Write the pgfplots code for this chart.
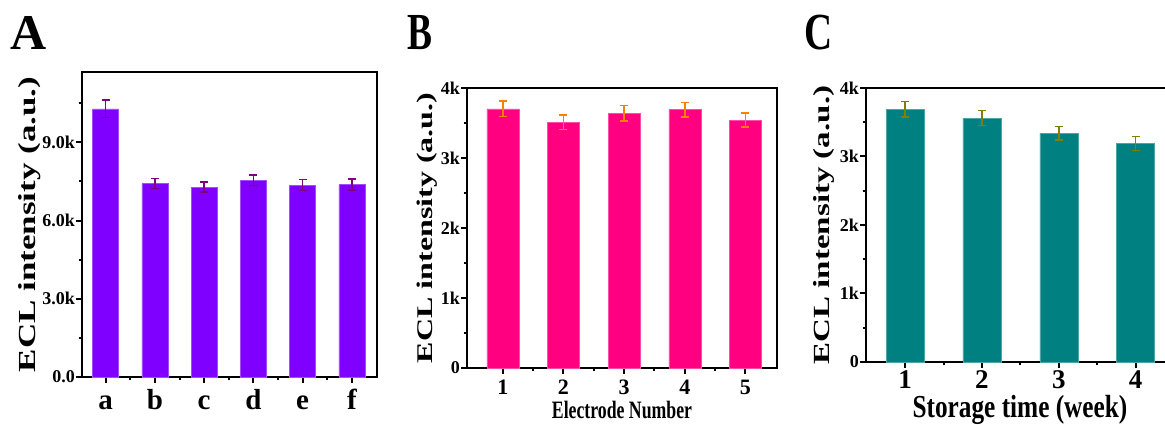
\documentclass[border=0pt]{standalone}
\usepackage{pgfplots}
\pgfplotsset{compat=1.18}
\usepackage{pgfplotstable}
\usepackage{fontspec}
\setmainfont{Liberation Serif}
\definecolor{barA}{RGB}{128,0,255}
\definecolor{errA}{RGB}{128,0,128}
\definecolor{barB}{RGB}{255,0,128}
\definecolor{errB}{RGB}{255,128,0}
\definecolor{barC}{RGB}{0,128,128}
\definecolor{errC}{RGB}{128,128,0}

\pgfplotstableread{
x y e
0 10290 340
1 7420 190
2 7280 190
3 7540 200
4 7360 210
5 7380 210
}\dataA
\pgfplotstableread{
x y e
1 3700 110
2 3510 105
3 3640 110
4 3690 105
5 3540 100
}\dataB
\pgfplotstableread{
x y e
1 3690 110
2 3560 110
3 3340 100
4 3190 100
}\dataC

\pgfplotsset{
  panel/.style={
    scale only axis, anchor=south west,
    axis line style={line width=2.5pt},
    tick align=outside, xtick pos=left, ytick pos=left,
    major tick length=6pt, minor tick length=3.5pt,
    every tick/.style={black, line width=2pt},
    yticklabel style={font=\fontsize{18}{18}\selectfont\bfseries, inner sep=1pt},
    scaled y ticks=false, scaled x ticks=false,
    ymin=0, clip=false,
  },
  errs/.style={
    error bars/.cd, y dir=both, y explicit,
    error bar style={line width=1.6pt, color=#1},
    error mark options={rotate=90, mark size=4pt, line width=1.6pt, color=#1},
  },
}

\begin{document}
\begin{tikzpicture}[x=1pt,y=1pt]
\clip (0,0) rectangle (1165,425);

% Panel letters
\node[anchor=base west, inner sep=0pt, font=\fontsize{50}{50}\selectfont\bfseries] at (10,375) {A};
\node[anchor=base west, inner sep=0pt, font=\fontsize{52}{52}\selectfont\bfseries] at (407,375) {\scalebox{0.72}[1]{B}};
\node[anchor=base west, inner sep=0pt, font=\fontsize{52}{52}\selectfont\bfseries] at (804,375) {\scalebox{0.75}[1]{C}};

% Panel A
\begin{axis}[panel, at={(82pt,48pt)}, width=295pt, height=305pt,
  xmin=-0.48, xmax=5.51, ymax=11700,
  xtick={0,1,2,3,4,5}, xticklabels={a,b,c,d,e,f},
  minor xtick={0.5,1.5,2.5,3.5,4.5},
  ytick={0,3000,6000,9000}, yticklabels={0.0,3.0k,6.0k,9.0k},
  minor ytick={1500,4500,7500,10500},
  xticklabel style={font=\fontsize{29}{29}\selectfont\bfseries, anchor=base, yshift=-27pt},
  ylabel={\scalebox{1}[0.7]{\fontsize{35}{35}\selectfont\bfseries ECL intensity (a.u.)}},
  every axis y label/.style={at={(rel axis cs:0,0.5)}, xshift=-52pt, rotate=90, anchor=center},
]
\addplot[ybar, bar width=26pt, fill=barA, draw=barA!70!white, errs=errA] table[x=x, y=y, y error=e] {\dataA};
\end{axis}

% Panel B
\begin{axis}[panel, at={(467pt,57pt)}, width=310pt, height=280pt,
  xmin=0.41, xmax=5.52, ymax=4000,
  xtick={1,2,3,4,5}, xticklabels={1,2,3,4,5},
  minor xtick={1.5,2.5,3.5,4.5},
  ytick={0,1000,2000,3000,4000}, yticklabels={0,1k,2k,3k,4k},
  minor ytick={500,1500,2500,3500},
  xticklabel style={font=\fontsize{22}{22}\selectfont\bfseries, anchor=base, inner sep=0pt, yshift=-21pt},
  ylabel={\scalebox{1}[0.7]{\fontsize{32}{32}\selectfont\bfseries ECL intensity (a.u.)}},
  every axis y label/.style={at={(rel axis cs:0,0.5)}, xshift=-40pt, rotate=90, anchor=center},
  xlabel={\scalebox{0.71}[1]{\fontsize{25}{25}\selectfont\bfseries Electrode Number}},
  every axis x label/.style={at={(rel axis cs:0.5,0)}, anchor=base, inner sep=0pt, yshift=-51pt},
]
\addplot[ybar, bar width=32pt, fill=barB, draw=barB!70!white, errs=errB] table[x=x, y=y, y error=e] {\dataB};
\end{axis}

% Panel C
\begin{axis}[panel, at={(866pt,63pt)}, width=308pt, height=274pt,
  xmin=0.49, xmax=4.5, ymax=4000,
  xtick={1,2,3,4}, xticklabels={1,2,3,4},
  minor xtick={1.5,2.5,3.5},
  ytick={0,1000,2000,3000,4000}, yticklabels={0,1k,2k,3k,4k},
  minor ytick={500,1500,2500,3500},
  xticklabel style={font=\fontsize{27}{27}\selectfont\bfseries, anchor=base, inner sep=0pt, yshift=-21pt},
  ylabel={\scalebox{1}[0.7]{\fontsize{33}{33}\selectfont\bfseries ECL intensity (a.u.)}},
  every axis y label/.style={at={(rel axis cs:0,0.5)}, xshift=-42pt, rotate=90, anchor=center},
  xlabel={\scalebox{0.79}[1]{\fontsize{32}{32}\selectfont\bfseries Storage time (week)}},
  every axis x label/.style={at={(rel axis cs:0.5,0)}, anchor=base, inner sep=0pt, yshift=-56pt},
]
\addplot[ybar, bar width=38pt, fill=barC, draw=barC!70!white, errs=errC] table[x=x, y=y, y error=e] {\dataC};
\end{axis}
\end{tikzpicture}
\end{document}
